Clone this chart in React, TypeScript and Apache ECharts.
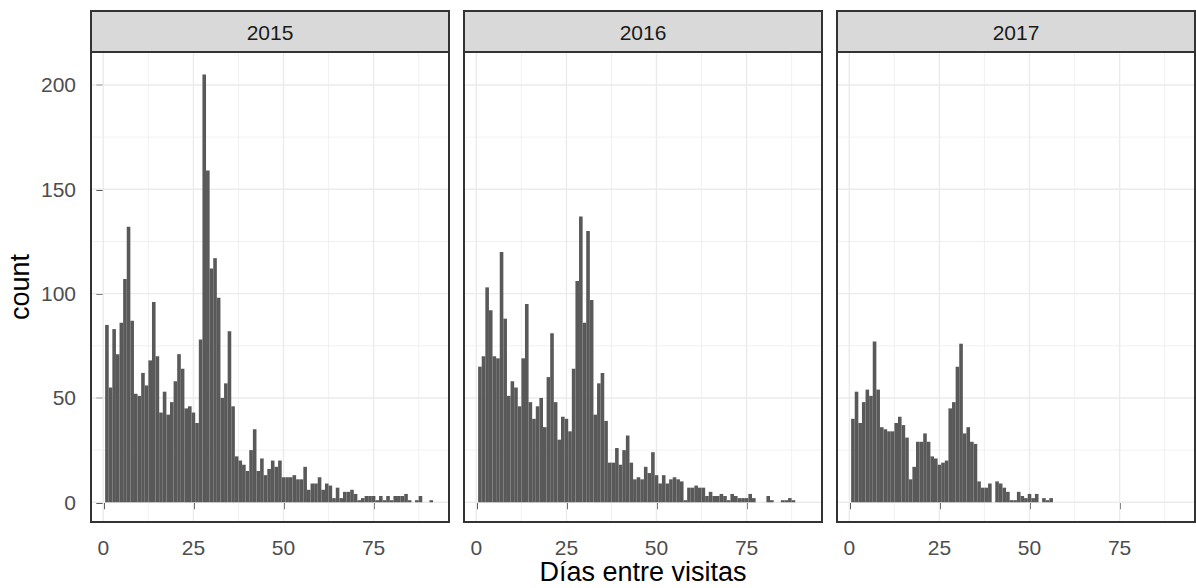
import React, { useEffect, useRef } from "react";
import * as echarts from "echarts";

const years = ["2015", "2016", "2017"];

// counts per day, starting at day 1
const counts2015 = [
  85, 55, 83, 71, 86, 107, 132, 87, 52, 51,
  62, 56, 68, 96, 70, 43, 53, 42, 48, 58,
  71, 64, 45, 46, 43, 38, 78, 205, 159, 112,
  117, 98, 50, 57, 82, 46, 22, 20, 18, 15,
  25, 35, 15, 21, 13, 16, 20, 17, 20, 12,
  12, 12, 13, 11, 11, 17, 6, 9, 9, 12,
  6, 9, 8, 2, 7, 2, 5, 5, 6, 4,
  1, 2, 3, 3, 3, 1, 3, 1, 3, 1,
  3, 3, 3, 4, 1, 0, 1, 3, 0, 0,
  1,
];
const counts2016 = [
  65, 70, 103, 92, 70, 69, 120, 88, 51, 58,
  55, 46, 69, 95, 48, 40, 46, 50, 36, 60,
  81, 48, 30, 41, 40, 34, 64, 106, 137, 86,
  130, 97, 42, 57, 62, 39, 19, 19, 26, 18,
  25, 32, 19, 11, 12, 11, 17, 14, 24, 13,
  9, 13, 9, 11, 12, 11, 10, 1, 7, 7,
  8, 7, 7, 3, 5, 3, 3, 4, 3, 1,
  4, 3, 2, 2, 2, 4, 2, 0, 0, 0,
  3, 1, 0, 0, 1, 1, 2, 1,
];
const counts2017 = [
  40, 53, 38, 48, 54, 51, 77, 54, 36, 35,
  34, 34, 38, 41, 37, 31, 11, 17, 29, 29,
  33, 29, 22, 21, 18, 19, 20, 45, 48, 65,
  76, 33, 36, 29, 28, 10, 7, 7, 9, 0,
  10, 9, 7, 5, 1, 1, 5, 3, 2, 4,
  2, 4, 0, 2, 1, 2,
];

const xTickValues = [0, 25, 50, 75];
const xMinorValues = [12.5, 37.5, 62.5, 87.5];
const yTickValues = [0, 50, 100, 150, 200];
const yMinorValues = [25, 75, 125, 175];
const xTitle = "Días entre visitas";
const yTitle = "count";

const FONT = "'Liberation Sans', Arial, Helvetica, sans-serif";

export default function App() {
  const ref = useRef<HTMLDivElement>(null);

  useEffect(() => {
    document.body.style.margin = "0";
    const chart = echarts.init(ref.current as HTMLDivElement, null, { renderer: "svg" });

    const panels = [counts2015, counts2016, counts2017];
    const lefts = [91, 464, 837];
    const W = 358;
    const TOP = 52;
    const H = 470;
    const STRIP_TOP = 11;

    const grids: any[] = [];
    const xAxes: any[] = [];
    const yAxes: any[] = [];
    const series: any[] = [];
    const graphics: any[] = [];

    const gridData: any[] = [];
    xTickValues.forEach((v) => gridData.push([v, 0, 1]));
    xMinorValues.forEach((v) => gridData.push([v, 0, 0]));
    yTickValues.forEach((v) => gridData.push([v, 1, 1]));
    yMinorValues.forEach((v) => gridData.push([v, 1, 0]));

    panels.forEach((counts, i) => {
      grids.push({ left: lefts[i], top: TOP, width: W, height: H, show: false });
      xAxes.push({
        type: "value",
        gridIndex: i,
        min: -3.42,
        max: 95.92,
        axisLine: { show: false },
        splitLine: { show: false },
        axisTick: {
          show: true,
          customValues: xTickValues,
          length: 7,
          lineStyle: { color: "#333333", width: 1.6 },
        },
        axisLabel: {
          show: true,
          customValues: xTickValues,
          margin: 15,
          color: "#4D4D4D",
          fontSize: 21,
          fontFamily: FONT,
        },
      });
      yAxes.push({
        type: "value",
        gridIndex: i,
        min: -9.45,
        max: 215.8,
        axisLine: { show: false },
        splitLine: { show: false },
        axisTick: {
          show: i === 0,
          customValues: yTickValues,
          length: 7,
          lineStyle: { color: "#333333", width: 1.6 },
        },
        axisLabel: {
          show: i === 0,
          customValues: yTickValues,
          margin: 15,
          color: "#4D4D4D",
          fontSize: 21,
          fontFamily: FONT,
        },
      });

      series.push({
        type: "custom",
        xAxisIndex: i,
        yAxisIndex: i,
        silent: true,
        z: 1,
        data: gridData,
        renderItem: (params: any, api: any) => {
          const v = api.value(0);
          const orient = api.value(1);
          const major = api.value(2);
          const cs = params.coordSys;
          let shape;
          if (orient === 0) {
            const x = api.coord([v, 0])[0];
            shape = { x1: x, y1: cs.y + 1, x2: x, y2: cs.y + cs.height - 1 };
          } else {
            const y = api.coord([0, v])[1];
            shape = { x1: cs.x + 1, y1: y, x2: cs.x + cs.width - 1, y2: y };
          }
          return {
            type: "line",
            shape,
            style: { stroke: "#EBEBEB", lineWidth: major ? 1.4 : 0.7 },
          };
        },
      });

      const barData = counts
        .map((c, k) => [k + 1, c])
        .filter((d) => d[1] > 0);
      series.push({
        type: "custom",
        xAxisIndex: i,
        yAxisIndex: i,
        silent: true,
        z: 2,
        data: barData,
        renderItem: (params: any, api: any) => {
          const d = api.value(0);
          const c = api.value(1);
          const p0 = api.coord([d - 0.5, c]);
          const p1 = api.coord([d + 0.5, 0]);
          return {
            type: "rect",
            shape: { x: p0[0], y: p0[1], width: p1[0] - p0[0], height: p1[1] - p0[1] },
            style: { fill: "#595959" },
          };
        },
      });

      // strip
      graphics.push({
        type: "rect",
        z: 100,
        shape: { x: lefts[i], y: STRIP_TOP, width: W, height: TOP - STRIP_TOP },
        style: { fill: "#D9D9D9", stroke: "#333333", lineWidth: 2 },
      });
      graphics.push({
        type: "text",
        z: 101,
        x: lefts[i] + W / 2,
        y: (STRIP_TOP + TOP) / 2 + 1,
        style: {
          text: years[i],
          fill: "#1A1A1A",
          font: `21px ${FONT}`,
          textAlign: "center",
          textVerticalAlign: "middle",
        },
      });
      // panel border
      graphics.push({
        type: "rect",
        z: 100,
        shape: { x: lefts[i], y: TOP, width: W, height: H },
        style: { fill: "none", stroke: "#333333", lineWidth: 2 },
      });
    });

    graphics.push({
      type: "text",
      z: 101,
      x: (lefts[0] + lefts[2] + W) / 2,
      y: 572,
      style: {
        text: xTitle,
        fill: "#000000",
        font: `27px ${FONT}`,
        textAlign: "center",
        textVerticalAlign: "middle",
      },
    });
    graphics.push({
      type: "text",
      z: 101,
      x: 20,
      y: TOP + H / 2,
      rotation: Math.PI / 2,
      style: {
        text: yTitle,
        fill: "#000000",
        font: `27px ${FONT}`,
        textAlign: "center",
        textVerticalAlign: "middle",
      },
    });

    chart.setOption({
      animation: false,
      backgroundColor: "#FFFFFF",
      grid: grids,
      xAxis: xAxes,
      yAxis: yAxes,
      series,
      graphic: graphics,
    });

    return () => chart.dispose();
  }, []);

  return (
    <div
      ref={ref}
      style={{ position: "fixed", left: 0, top: 0, width: 1196, height: 588 }}
    />
  );
}
